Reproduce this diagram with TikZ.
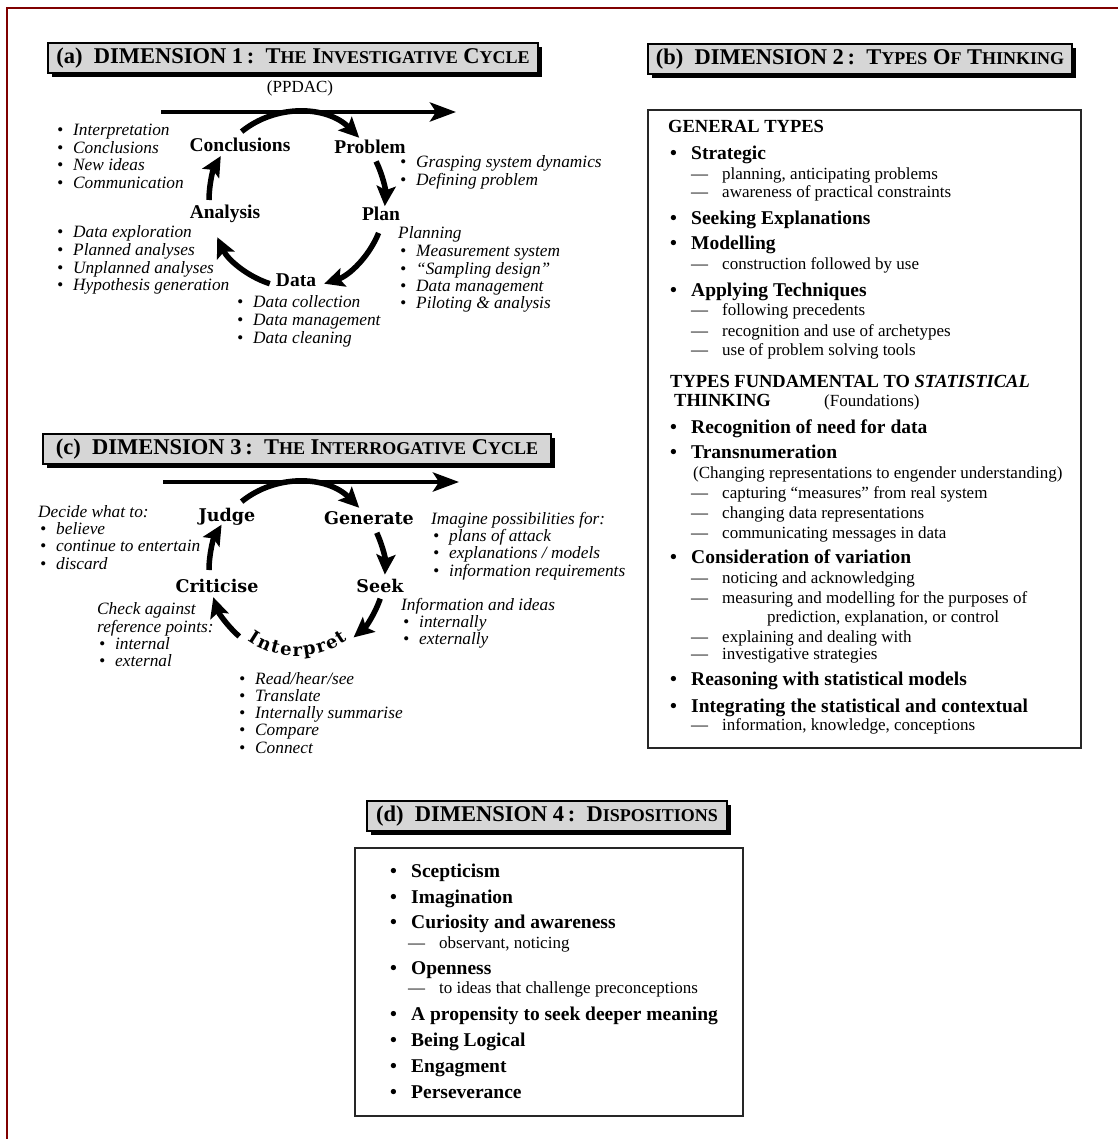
\documentclass[tikz,border=0pt]{standalone}
\usepackage{fontspec}
\setmainfont{Liberation Serif}
\newfontfamily\cycfont{DejaVu Serif}
\usetikzlibrary{arrows.meta,decorations.text,shadows}

\definecolor{framered}{RGB}{128,0,0}
\definecolor{titlegray}{RGB}{214,214,214}

% fake small capitals for the headings
\newcommand{\smc}[1]{{\fontsize{18}{20}\selectfont #1}}
\newcommand{\bul}{\makebox[16pt][l]{\textbullet}}
\newcommand{\bbul}{\makebox[21pt][l]{\textbullet}}
\newcommand{\dsh}{\makebox[31pt][l]{---}}
\newcommand{\intfont}{\cycfont\bfseries\fontsize{18}{19}\selectfont}

\tikzset{
  heading/.style={draw, line width=1.2pt, fill=titlegray, minimum height=30pt,
    inner xsep=4pt, inner ysep=0pt, font=\fontsize{22.5}{24}\selectfont\bfseries,
    drop shadow={opacity=1, fill=black, shadow xshift=4pt, shadow yshift=-4pt}},
  stage/.style={font=\fontsize{19.5}{20}\selectfont\bfseries, inner sep=0pt, anchor=base},
  stagec/.style={font=\cycfont\bfseries\fontsize{17.5}{20}\selectfont, inner sep=0pt, anchor=base},
  note/.style={font=\fontsize{17.3}{17}\selectfont\itshape, inner sep=0pt, anchor=base west},
  item/.style={font=\fontsize{17}{17}\selectfont, inner sep=0pt, anchor=base west},
  bitem/.style={font=\fontsize{19.5}{20}\selectfont\bfseries, inner sep=0pt, anchor=base west},
  bhead/.style={font=\fontsize{18.5}{20}\selectfont\bfseries, inner sep=0pt, anchor=base west},
  cyc/.style={line width=5.5pt, -{Stealth[length=20pt,width=19pt,inset=4pt]}},
  axis/.style={line width=4.5pt, -{Stealth[length=26pt,width=19pt,inset=6pt]}},
  panel/.style={line width=1.2pt, draw=black!85}
}

\begin{document}
\begin{tikzpicture}[x=1pt,y=1pt]
  \useasboundingbox (0,0) rectangle (1118,-1139);
  \draw[framered, line width=2pt] (7,-1139) -- (7,-8) -- (1118,-8);

  % (a) investigative cycle
  \node[heading, minimum width=490pt] (headA) at (293,-58)
    {(a)\ \ DIMENSION 1\,:\ \ T\smc{HE} I\smc{NVESTIGATIVE} C\smc{YCLE}};
  \node[item, anchor=base] (ppdac) at (300,-93) {(PPDAC)};
  \coordinate (cycA) at (297,-200);
  \coordinate (axisAs) at (161,-112);
  \coordinate (axisAe) at (456,-112);
  \draw[axis] (axisAs) -- (axisAe);
  \node[stage] (concl) at (240,-152) {Conclusions};
  \node[stage] (prob) at (370,-154) {Problem};
  \node[stage] (plan) at (381,-221) {Plan};
  \node[stage] (data) at (296,-287) {Data};
  \node[stage] (anal) at (225,-219) {Analysis};
  \draw[cyc] ([shift={(129:88)}]cycA) arc[start angle=129, end angle=45, radius=88];
  \draw[cyc] ([shift={(26:88)}]cycA) arc[start angle=26, end angle=-4, radius=88];
  \draw[cyc] ([shift={(-22:88)}]cycA) arc[start angle=-22, end angle=-72, radius=88];
  \draw[cyc] ([shift={(-108:88)}]cycA) arc[start angle=-108, end angle=-155, radius=88];
  \draw[cyc] ([shift={(180:88)}]cycA) arc[start angle=180, end angle=150, radius=88];

  \foreach \t [count=\i] in {Interpretation, Conclusions, New ideas, Communication}
    \node[note] (aConc\i) at (57,{-136-17.5*(\i-1)}) {\bul\t};
  \foreach \t [count=\i] in {Grasping system dynamics, Defining problem}
    \node[note] (aProb\i) at (400,{-168-17.5*(\i-1)}) {\bul\t};
  \foreach \t [count=\i] in {Data exploration, Planned analyses, Unplanned analyses, Hypothesis generation}
    \node[note] (aAnal\i) at (57,{-238-17.5*(\i-1)}) {\bul\t};
  \node[note] (aPlanHd) at (398,-239) {Planning};
  \foreach \t [count=\i] in {Measurement system, “Sampling design”, Data management, Piloting \& analysis}
    \node[note] (aPlan\i) at (400,{-257-17.2*(\i-1)}) {\bul\t};
  \foreach \t [count=\i] in {Data collection, Data management, Data cleaning}
    \node[note] (aData\i) at (237,{-308-17.5*(\i-1)}) {\bul\t};

  % (c) interrogative cycle
  \node[heading, minimum width=508pt] (headC) at (297,-449)
    {(c)\ \ DIMENSION 3\,:\ \ T\smc{HE} I\smc{NTERROGATIVE} C\smc{YCLE}};
  \coordinate (cycC) at (297,-570);
  \coordinate (axisCs) at (163,-482);
  \coordinate (axisCe) at (459,-482);
  \draw[axis] (axisCs) -- (axisCe);
  \node[stagec] (judge) at (227,-521) {Judge};
  \node[stagec] (gener) at (369,-524) {Generate};
  \node[stagec] (seek) at (380,-592) {Seek};
  \node[stagec] (crit) at (217,-592) {Criticise};
  \path[decorate, decoration={text along path, text={|\intfont|Interpret},
      text align={fit to path}}]
    ([shift={(-125:86)}]cycC) arc[start angle=-125, end angle=-54, radius=86];
  \draw[cyc] ([shift={(129:88)}]cycC) arc[start angle=129, end angle=45, radius=88];
  \draw[cyc] ([shift={(25:88)}]cycC) arc[start angle=25, end angle=-3, radius=88];
  \draw[cyc] ([shift={(-19:88)}]cycC) arc[start angle=-19, end angle=-50, radius=88];
  \draw[cyc] ([shift={(-131:88)}]cycC) arc[start angle=-131, end angle=-162, radius=88];
  \draw[cyc] ([shift={(180:88)}]cycC) arc[start angle=180, end angle=149, radius=88];

  \node[note] (cJudgeHd) at (38,-517) {Decide what to:};
  \foreach \t [count=\i] in {believe, continue to entertain, discard}
    \node[note] (cJudge\i) at (40,{-534-17.5*(\i-1)}) {\bul\t};
  \node[note] (cGenHd) at (431,-524) {Imagine possibilities for:};
  \foreach \t [count=\i] in {plans of attack, explanations / models, information requirements}
    \node[note] (cGen\i) at (433,{-541-17.5*(\i-1)}) {\bul\t};
  \node[note] (cCritHd) at (97,-614) {Check against};
  \node[note] (cCritHd2) at (97,-632) {reference points:};
  \foreach \t [count=\i] in {internal, external}
    \node[note] (cCrit\i) at (99,{-649-17.5*(\i-1)}) {\bul\t};
  \node[note] (cSeekHd) at (401,-610) {Information and ideas};
  \foreach \t [count=\i] in {internally, externally}
    \node[note] (cSeek\i) at (403,{-627-17.5*(\i-1)}) {\bul\t};
  \foreach \t [count=\i] in {Read/hear/see, Translate, Internally summarise, Compare, Connect}
    \node[note] (cInt\i) at (239,{-684-17.3*(\i-1)}) {\bul\t};

  % (b) types of thinking
  \node[heading, minimum width=424pt] (headB) at (860,-59)
    {(b)\ \ DIMENSION 2\,:\ \ T\smc{YPES} O\smc{F} T\smc{HINKING}};
  \draw[panel] (648,-110) rectangle (1081,-748);
  \node[bhead] (genTypes) at (668,-133) {GENERAL TYPES};
  \node[bhead] (fundTypes) at (670,-387) {TYPES FUNDAMENTAL TO \textit{STATISTICAL}};
  \node[bhead] (fundThink) at (674,-406) {THINKING};
  \node[item] (found) at (824,-406) {(Foundations)};
  \foreach \y/\t [count=\i] in {160/Strategic, 225/Seeking Explanations, 250/Modelling,
      296/Applying Techniques, 433/Recognition of need for data, 458/Transnumeration,
      563/Consideration of variation, 685/Reasoning with statistical models,
      712/Integrating the statistical and contextual}
    \node[bitem] (bB\i) at (670,-\y) {\bbul\t};
  \foreach \y/\t [count=\i] in {180/{planning, anticipating problems},
      198/awareness of practical constraints, 270/construction followed by use,
      316/following precedents, 336/recognition and use of archetypes,
      355/use of problem solving tools, 498/capturing “measures” from real system,
      518/changing data representations, 538/communicating messages in data,
      583/noticing and acknowledging, 603/measuring and modelling for the purposes of,
      642/explaining and dealing with, 659/investigative strategies,
      730/{information, knowledge, conceptions}}
    \node[item] (bD\i) at (691,-\y) {\dsh\t};
  \node[item] (transNote) at (693,-478) {(Changing representations to engender understanding)};
  \node[item] (varNote) at (767,-622) {prediction, explanation, or control};

  % (d) dispositions
  \node[heading, minimum width=360pt] (headD) at (547,-816)
    {(d)\ \ DIMENSION 4\,:\ \ D\smc{ISPOSITIONS}};
  \draw[panel] (355,-848) rectangle (743,-1116);
  \foreach \y/\t [count=\i] in {877/Scepticism, 903/Imagination, 928/Curiosity and awareness,
      974/Openness, 1020/A propensity to seek deeper meaning, 1046/Being Logical,
      1072/Engagment, 1098/Perseverance}
    \node[bitem] (dB\i) at (390,-\y) {\bbul\t};
  \foreach \y/\t [count=\i] in {948/{observant, noticing}, 993/to ideas that challenge preconceptions}
    \node[item] (dD\i) at (408,-\y) {\dsh\t};
\end{tikzpicture}
\end{document}
